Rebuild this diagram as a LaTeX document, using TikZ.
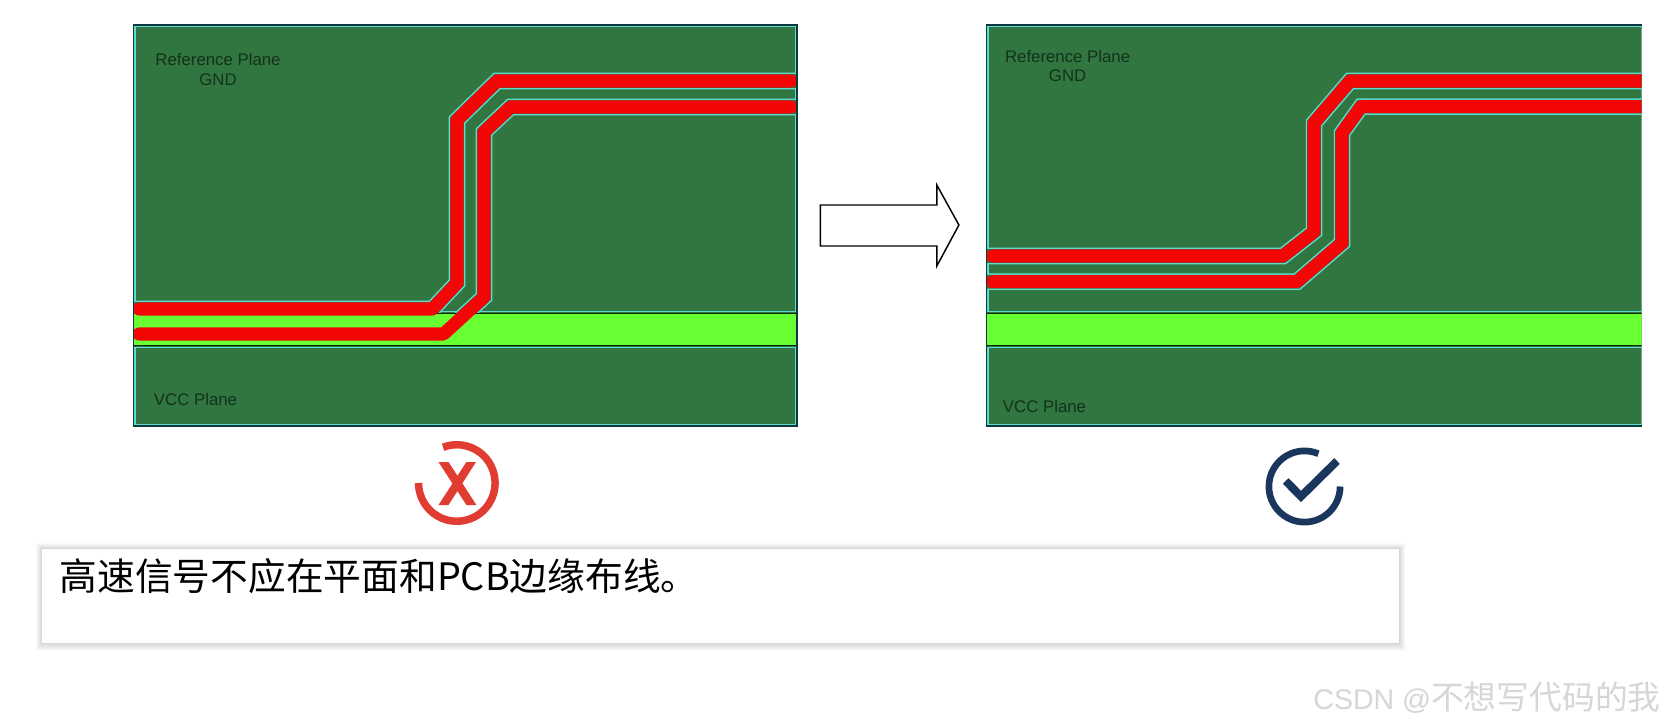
\documentclass[tikz,border=0pt]{standalone}
\usepackage{fontspec}
\setmainfont{Liberation Sans}
\newfontfamily\cjk{Noto Sans CJK SC}
\definecolor{planegreen}{HTML}{317641}
\definecolor{bandgreen}{HTML}{68FF33}
\definecolor{traced}{HTML}{F20606}
\definecolor{outlinec}{HTML}{5CDCD0}
\definecolor{edgec}{HTML}{0C3A3C}
\definecolor{labelc}{HTML}{13321B}
\definecolor{wrongc}{HTML}{E03C31}
\definecolor{rightc}{HTML}{1B365D}
\definecolor{markc}{HTML}{D6D6D6}
\tikzset{
  planebox/.style={fill=planegreen,draw=none},
  innerline/.style={draw=outlinec,line width=1.4pt},
  halo/.style={draw=outlinec,line width=12.4pt,line join=miter},
  halocut/.style={draw=planegreen,line width=10.2pt,line join=miter},
  bandbox/.style={fill=bandgreen,draw=none},
  bandline/.style={draw=black!85!green,line width=.7pt},
  tracered/.style={draw=traced,line width=9.8pt,line cap=round,line join=round},
  pcblabel/.style={font=\fontsize{12.6}{14}\selectfont,text=labelc,inner sep=0pt},
  frameline/.style={draw=edgec,line width=.9pt},
  ringw/.style={draw=wrongc,line width=5.6pt},
  ringr/.style={draw=rightc,line width=5pt}
}
\begin{document}
\begin{tikzpicture}[x=.75pt,y=-.75pt]
\useasboundingbox (0,0) rectangle (1665,727);
\fill[white] (0,0) rectangle (1665,727);

% ---- left board ----
\begin{scope}
  \clip (133.4,25) rectangle (797,426);
  \fill[planebox] (133.4,25) rectangle (797,426);
  \draw[innerline] (134.6,26.2) rectangle (795.8,311.5);
  \draw[innerline] (134.6,347.5) rectangle (795.8,424.8);
  \foreach \st in {halo,halocut}{
    \draw[\st] (125,309) -- (432.5,309) -- (457,283) -- (457,120) -- (497,81) -- (810,81);
    \draw[\st] (125,334) -- (443.6,334) -- (484,297) -- (484,132) -- (510.6,107) -- (810,107);
  }
  \fill[bandbox] (133.4,313) rectangle (797,345);
  \draw[bandline] (133.4,313) -- (797,313);
  \draw[bandline] (133.4,345) -- (797,345);
  \draw[tracered] (139,309) -- (432.5,309) -- (457,283) -- (457,120) -- (497,81) -- (791,81);
  \draw[tracered] (139,334) -- (443.6,334) -- (484,297) -- (484,132) -- (510.6,107) -- (791,107);
\end{scope}
\draw[frameline] (133.4,25) rectangle (797,426);
\node[pcblabel] (refa) at (218,59.5) {Reference Plane};
\node[pcblabel] (gnda) at (218,79.5) {GND};
\node[pcblabel] (vcca) at (195.5,399.5) {VCC Plane};

% ---- arrow ----
\draw[line width=1.1pt,draw=black,fill=white,line join=miter]
  (820.4,205) -- (936.8,205) -- (936.8,185) -- (958.9,225) -- (936.8,266) -- (936.8,246) -- (820.4,246) -- cycle;

% ---- right board ----
\begin{scope}
  \clip (986.5,25) rectangle (1641.5,426);
  \fill[planebox] (986.5,25) rectangle (1641.5,426);
  \draw[innerline] (987.7,26.2) rectangle (1660,311.5);
  \draw[innerline] (987.7,347.5) rectangle (1660,424.8);
  \foreach \st in {halo,halocut}{
    \draw[\st] (975,256) -- (1283,256) -- (1314,231.7) -- (1314,123) -- (1350,81) -- (1660,81);
    \draw[\st] (975,281.7) -- (1297,281.7) -- (1342,243) -- (1342,133) -- (1361,106.7) -- (1660,106.7);
  }
  \fill[bandbox] (986.5,313) rectangle (1641.5,345);
  \draw[bandline] (986.5,313) -- (1641.5,313);
  \draw[bandline] (986.5,345) -- (1641.5,345);
  \draw[tracered] (992.5,256) -- (1283,256) -- (1314,231.7) -- (1314,123) -- (1350,81) -- (1660,81);
  \draw[tracered] (992.5,281.7) -- (1297,281.7) -- (1342,243) -- (1342,133) -- (1361,106.7) -- (1660,106.7);
\end{scope}
\draw[frameline] (1641.5,25) -- (986.5,25) -- (986.5,426) -- (1641.5,426);
\node[pcblabel] (refb) at (1067.6,56) {Reference Plane};
\node[pcblabel] (gndb) at (1067.6,75.7) {GND};
\node[pcblabel] (vccb) at (1044.5,406) {VCC Plane};

% ---- wrong mark ----
\draw[ringw] (456.8,483) ++(111:28.7pt) arc[start angle=111,end angle=-180,radius=28.7pt];
\fill[wrongc] (438.5,462) -- (448.5,462) -- (476.4,505) -- (466.4,505) -- cycle;
\fill[wrongc] (466.4,462) -- (476,462) -- (448.5,505) -- (438.5,505) -- cycle;

% ---- right mark ----
\draw[ringr] (1304.5,486.5) ++(0:26.7pt) arc[start angle=0,end angle=-293,radius=26.7pt];
\draw[draw=rightc,line width=6pt,line join=miter] (1285.7,481) -- (1301,496.5) -- (1337,461);

% ---- caption box ----
\foreach \g in {8,7,6,5,4,3,2,1}{
  \fill[black,opacity=.018] (42-\g*.7,549-\g*.7) rectangle (1399+\g*.8,642.7+\g);
}
\fill[white] (42,549) rectangle (1399,642.7);
\node[anchor=base west,inner sep=0pt,font=\cjk\fontsize{28.3}{32}\selectfont,text=black] (caption) at (59.5,590) {高速信号不应在平面和PCB边缘布线。};

% ---- watermark ----
\node[anchor=base east,inner sep=0pt,text=markc] (mark) at (1661,709) {\fontsize{21.4}{26}\selectfont CSDN @{\cjk\fontsize{24.6}{26}\selectfont 不想写代码的我}};
\end{tikzpicture}
\end{document}
